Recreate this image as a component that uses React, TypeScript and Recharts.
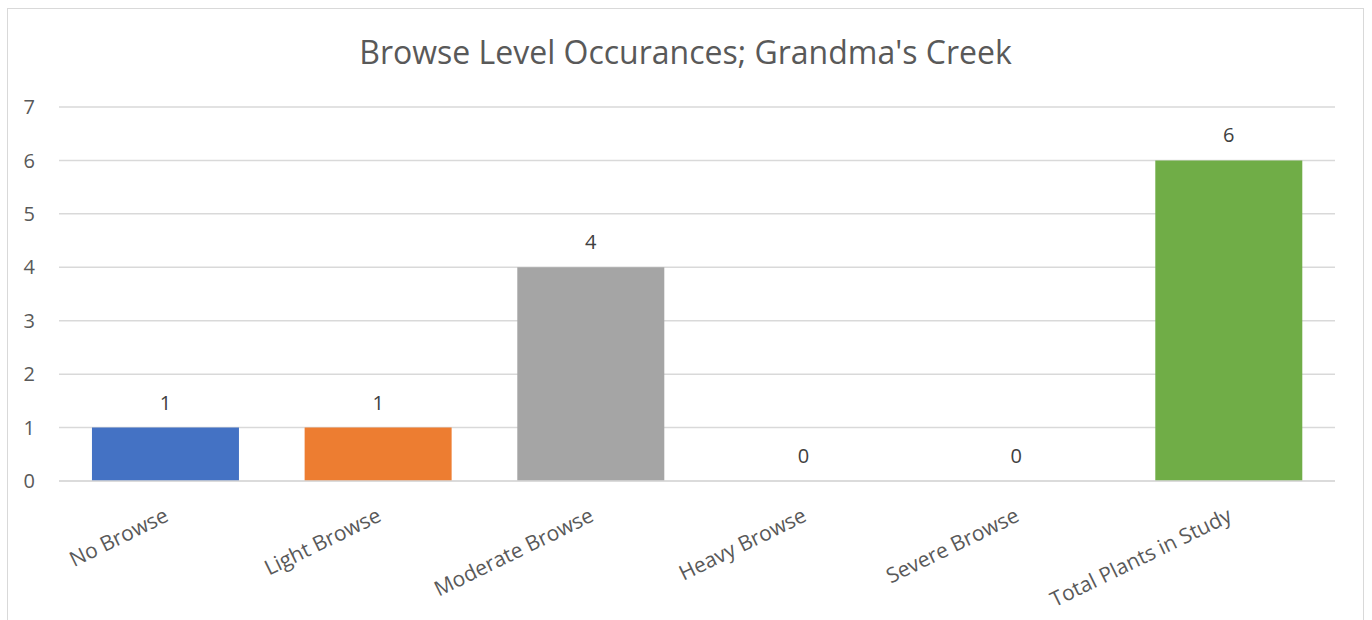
import { BarChart, Bar, XAxis, YAxis, CartesianGrid, Cell, LabelList } from 'recharts';

const categories = ['No Browse', 'Light Browse', 'Moderate Browse', 'Heavy Browse', 'Severe Browse', 'Total Plants in Study'];
const counts = [1, 1, 4, 0, 0, 6];
const yTicks = [0, 1, 2, 3, 4, 5, 6, 7];

const COLORS = ['#4472C4', '#ED7D31', '#A5A5A5', '#FFC000', '#5B9BD5', '#70AD47'];
const FONT = '"Open Sans", "Noto Sans", sans-serif';

const data = categories.map((name, i) => ({ name, count: counts[i] }));

function AngledTick(props: any) {
  const { x, y, payload } = props;
  return (
    <g transform={`translate(${x - 2},${y + 18})`}>
      <text
        transform="rotate(-26)"
        textAnchor="end"
        dy="0.71em"
        fontSize={21}
        fontFamily={FONT}
        fill="#595959"
      >
        {payload.value}
      </text>
    </g>
  );
}

function ValueLabel(props: any) {
  const { x, y, width, value } = props;
  return (
    <text
      x={Number(x) + Number(width) / 2}
      y={Number(y) - 18}
      textAnchor="middle"
      fontSize={20}
      fontFamily={FONT}
      fill="#404040"
    >
      {value}
    </text>
  );
}

export default function App() {
  return (
    <div
      style={{
        position: 'fixed',
        left: 7,
        top: 8,
        width: 1355,
        height: 640,
        border: '1px solid #d9d9d9',
        background: '#fff',
      }}
    >
      <div
        style={{
          position: 'absolute',
          top: 21,
          left: 0,
          width: '100%',
          textAlign: 'center',
          fontFamily: FONT,
          fontSize: 32,
          color: '#595959',
        }}
      >
        Browse Level Occurances; Grandma's Creek
      </div>
      <BarChart
        width={1355}
        height={640}
        data={data}
        margin={{ top: 98, right: 28, left: 0, bottom: 0 }}
        barCategoryGap="15.5%"
      >
        <CartesianGrid stroke="#d9d9d9" strokeWidth={1.5} vertical={false} />
        <XAxis
          dataKey="name"
          interval={0}
          tick={<AngledTick />}
          tickLine={false}
          axisLine={{ stroke: '#d9d9d9', strokeWidth: 1.5 }}
          height={168}
        />
        <YAxis
          domain={[0, 7]}
          ticks={yTicks}
          interval={0}
          width={51}
          tick={{ fontSize: 20, fill: '#595959', fontFamily: FONT }}
          tickMargin={18}
          tickLine={false}
          axisLine={false}
        />
        <Bar dataKey="count" isAnimationActive={false} minPointSize={0.01}>
          {data.map((_, i) => (
            <Cell key={`cell-${i}`} fill={COLORS[i]} />
          ))}
          <LabelList dataKey="count" content={<ValueLabel />} />
        </Bar>
      </BarChart>
    </div>
  );
}
